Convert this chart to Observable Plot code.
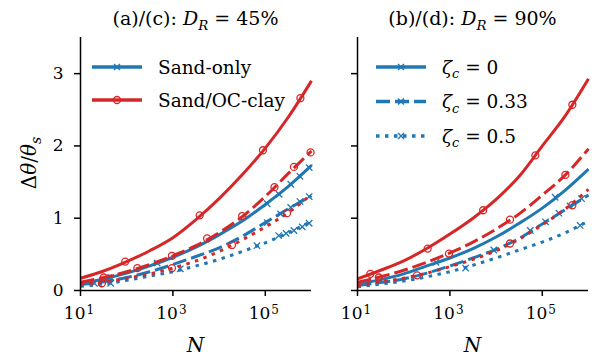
<!DOCTYPE html>
<html><head><meta charset="utf-8">
<script src="https://cdn.jsdelivr.net/npm/d3@7"></script>
<script src="https://cdn.jsdelivr.net/npm/@observablehq/plot@0.6"></script>
<style>
body{margin:0;background:#fff;}
#wrap{position:relative;width:595px;height:358px;overflow:hidden;background:#fff;}
#p1,#p2{position:absolute;top:0;}
#p1{left:0}
#p2{left:297px}
</style></head><body><div id="wrap"><div id="p1"></div><div id="p2"></div></div>
<script>
// ---- data ----
const N = [10, 31.6, 100, 316, 1000, 3160, 10000, 31600, 100000, 316000, 1000000];
const xTicks = [10, 1000, 100000];
const xTickExp = ["1", "3", "5"];
const yTicks = [0, 1, 2, 3];

// D_R = 45 %
const sand45_z0   = [0.10, 0.16, 0.24, 0.34, 0.46, 0.60, 0.77, 0.96, 1.19, 1.44, 1.73];
const sand45_z033 = [0.08, 0.12, 0.18, 0.26, 0.36, 0.47, 0.59, 0.75, 0.94, 1.13, 1.31];
const sand45_z05  = [0.06, 0.09, 0.14, 0.20, 0.26, 0.34, 0.43, 0.54, 0.66, 0.80, 0.96];
const clay45_z0   = [0.17, 0.27, 0.40, 0.55, 0.73, 0.98, 1.27, 1.60, 1.97, 2.40, 2.90];
const clay45_z033 = [0.115, 0.18, 0.26, 0.36, 0.48, 0.62, 0.80, 1.02, 1.30, 1.62, 1.93];
const clay45_z05  = [0.09, 0.12, 0.17, 0.23, 0.31, 0.41, 0.54, 0.70, 0.88, 1.08, 1.33];
// D_R = 90 %
const sand90_z0   = [0.09, 0.15, 0.23, 0.34, 0.45, 0.58, 0.74, 0.93, 1.14, 1.39, 1.68];
const sand90_z033 = [0.07, 0.11, 0.16, 0.24, 0.34, 0.45, 0.57, 0.72, 0.92, 1.12, 1.32];
const sand90_z05  = [0.05, 0.09, 0.13, 0.19, 0.26, 0.35, 0.45, 0.56, 0.67, 0.80, 0.96];
const clay90_z0   = [0.16, 0.28, 0.41, 0.58, 0.78, 1.00, 1.26, 1.58, 2.00, 2.42, 2.93];
const clay90_z033 = [0.115, 0.19, 0.28, 0.39, 0.52, 0.67, 0.85, 1.06, 1.32, 1.60, 1.96];
const clay90_z05  = [0.07, 0.12, 0.17, 0.24, 0.33, 0.43, 0.55, 0.71, 0.91, 1.13, 1.40];

// marker points (N, value)
const sand45_z0_mN   = [45, 457, 110000, 200000, 355000, 562000, 891000];
const sand45_z0_mv   = [0.18, 0.38, 1.20, 1.33, 1.47, 1.58, 1.70];
const sand45_z033_mN = [20, 110000, 214000, 355000, 562000, 891000];
const sand45_z033_mv = [0.10, 0.94, 1.06, 1.15, 1.23, 1.30];
const sand45_z05_mN  = [45, 1445, 66000, 195000, 282000, 417000, 631000, 891000];
const sand45_z05_mv  = [0.10, 0.30, 0.62, 0.76, 0.79, 0.83, 0.88, 0.93];
const clay45_z0_mN   = [93, 3800, 89000, 575000];
const clay45_z0_mv   = [0.40, 1.04, 1.94, 2.66];
const clay45_z033_mN = [32, 170, 955, 5500, 31600, 158000, 417000, 955000];
const clay45_z033_mv = [0.18, 0.31, 0.48, 0.72, 1.03, 1.43, 1.71, 1.91];
const clay45_z05_mN  = [29, 955, 19000, 295000];
const clay45_z05_mv  = [0.10, 0.31, 0.63, 1.07];

const sand90_z0_mN   = [500, 190000];
const sand90_z0_mv   = [0.39, 1.29];
const sand90_z033_mN = [8900, 55000, 117500, 229000, 398000, 708000];
const sand90_z033_mv = [0.56, 0.83, 0.95, 1.07, 1.17, 1.27];
const sand90_z05_mN  = [2190, 661000];
const sand90_z05_mv  = [0.31, 0.90];
const clay90_z0_mN   = [19, 330, 5250, 70800, 447000];
const clay90_z0_mv   = [0.23, 0.58, 1.11, 1.87, 2.57];
const clay90_z033_mN = [29, 955, 20000, 316000];
const clay90_z033_mv = [0.18, 0.51, 0.98, 1.60];
const clay90_z05_mN  = [195, 20000, 447000];
const clay90_z05_mv  = [0.21, 0.65, 1.18];

const BLUE = "#1f77b4", RED = "#d62728";
const DASH = {"0": null, "0.33": "14,5", "0.5": "3.5,5.5"};
const FONT = "DejaVu Serif";

const panels = [
  {id: "p1", pct: "45%", tag: "(a)/(c): ", width: 320, ml: 80, mr: 9, showY: true, series: [
    {mat: "sand", z: "0", v: sand45_z0, mN: sand45_z0_mN, mv: sand45_z0_mv},
    {mat: "sand", z: "0.33", v: sand45_z033, mN: sand45_z033_mN, mv: sand45_z033_mv},
    {mat: "sand", z: "0.5", v: sand45_z05, mN: sand45_z05_mN, mv: sand45_z05_mv},
    {mat: "clay", z: "0", v: clay45_z0, mN: clay45_z0_mN, mv: clay45_z0_mv},
    {mat: "clay", z: "0.33", v: clay45_z033, mN: clay45_z033_mN, mv: clay45_z033_mv},
    {mat: "clay", z: "0.5", v: clay45_z05, mN: clay45_z05_mN, mv: clay45_z05_mv}]},
  {id: "p2", pct: "90%", tag: "(b)/(d): ", width: 298, ml: 60, mr: 7, showY: false, series: [
    {mat: "sand", z: "0", v: sand90_z0, mN: sand90_z0_mN, mv: sand90_z0_mv},
    {mat: "sand", z: "0.33", v: sand90_z033, mN: sand90_z033_mN, mv: sand90_z033_mv},
    {mat: "sand", z: "0.5", v: sand90_z05, mN: sand90_z05_mN, mv: sand90_z05_mv},
    {mat: "clay", z: "0", v: clay90_z0, mN: clay90_z0_mN, mv: clay90_z0_mv},
    {mat: "clay", z: "0.33", v: clay90_z033, mN: clay90_z033_mN, mv: clay90_z033_mv},
    {mat: "clay", z: "0.5", v: clay90_z05, mN: clay90_z05_mN, mv: clay90_z05_mv}]}
];

function rich(g, x, y, parts, size, anchor, transform) {
  const t = g.append("text").attr("x", x).attr("y", y).attr("font-size", size)
    .attr("text-anchor", anchor).attr("font-family", FONT).attr("fill", "black");
  if (transform) t.attr("transform", transform);
  let shift = 0;
  for (const p of parts) {
    const ts = t.append("tspan").text(p.t);
    if (p.i) ts.attr("font-style", "italic");
    const target = p.sub ? size * 0.25 : 0;
    if (target !== shift) { ts.attr("dy", target - shift); shift = target; }
    if (p.sub) ts.attr("font-size", size * 0.7);
  }
  return t;
}

function legendEntry(g, x0, x1, y, color, dash, marker, parts, tx) {
  const line = g.append("line").attr("x1", x0).attr("x2", x1).attr("y1", y).attr("y2", y)
    .attr("stroke", color).attr("stroke-width", 3.5);
  if (dash) line.attr("stroke-dasharray", dash);
  const cx = (x0 + x1) / 2;
  if (marker === "x") {
    g.append("path").attr("d", `M${cx-3},${y-3}L${cx+3},${y+3}M${cx-3},${y+3}L${cx+3},${y-3}`)
      .attr("stroke", color).attr("stroke-width", 1.4);
  } else {
    g.append("circle").attr("cx", cx).attr("cy", y).attr("r", 3.5).attr("fill", "none")
      .attr("stroke", color).attr("stroke-width", 1.3);
  }
  rich(g, tx, y + 6.5, parts, 18.5, "start");
}

for (const p of panels) {
  const marks = [];
  for (const s of p.series) {
    const color = s.mat === "sand" ? BLUE : RED;
    const rows = N.map((n, i) => ({N: n, v: s.v[i]}));
    const opts = {x: "N", y: "v", stroke: color, strokeWidth: 3, curve: "monotone-x", strokeLinecap: "butt"};
    if (DASH[s.z]) opts.strokeDasharray = DASH[s.z];
    marks.push(Plot.line(rows, opts));
    const mrows = s.mN.map((n, i) => ({N: n, v: s.mv[i]}));
    marks.push(Plot.dot(mrows, {x: "N", y: "v", symbol: s.mat === "sand" ? "times" : "circle",
      r: s.mat === "sand" ? 3 : 3.5, stroke: color, fill: "none", strokeWidth: 1.3}));
  }
  marks.push(
    Plot.ruleX([10], {stroke: "black", strokeWidth: 1.5}),
    Plot.ruleY([0], {stroke: "black", strokeWidth: 1.5}),
    Plot.axisY({ticks: yTicks, tickSize: 6, tickPadding: 11, fontSize: 17, strokeWidth: 1.5, label: null,
      tickFormat: p.showY ? (d => String(d)) : (() => "")}),
    Plot.axisX({ticks: xTicks, tickSize: 6, strokeWidth: 1.5, label: null, tickFormat: () => ""}),
    Plot.text(xTicks, {x: d => d, text: () => "10", frameAnchor: "bottom", textAnchor: "end", dx: 5, dy: 28.6, fontSize: 17}),
    Plot.text(xTicks, {x: d => d, text: (d, i) => xTickExp[i], frameAnchor: "bottom", textAnchor: "start", dx: 6, dy: 23.2, fontSize: 12})
  );
  const chart = Plot.plot({
    width: p.width, height: 358,
    marginLeft: p.ml, marginRight: p.mr, marginTop: 37, marginBottom: 68,
    x: {type: "log", domain: [10, 1e6]},
    y: {domain: [0, 3.5]},
    style: {fontFamily: FONT, fontSize: "17px"},
    marks
  });
  document.getElementById(p.id).appendChild(chart);
  const svg = d3.select(chart).style("overflow", "visible");
  const cx = p.ml + (p.width - p.ml - p.mr) / 2;
  rich(svg, cx, 25, [{t: p.tag}, {t: "D", i: true}, {t: "R", i: true, sub: true}, {t: " = " + p.pct}], 19, "middle");
  rich(svg, cx, 352, [{t: "N", i: true}], 20, "middle");
  if (p.showY) {
    rich(svg, 0, 0, [{t: "Δ"}, {t: "θ", i: true}, {t: "/"}, {t: "θ", i: true}, {t: "s", i: true, sub: true}], 20, "middle",
      "translate(36,163) rotate(-90)");
    legendEntry(svg, 92, 142, 67, BLUE, null, "x", [{t: "Sand-only"}], 158);
    legendEntry(svg, 92, 142, 100, RED, null, "o", [{t: "Sand/OC-clay"}], 158);
  } else {
    const zl = [["0", null, 67], ["0.33", DASH["0.33"], 101.5], ["0.5", DASH["0.5"], 136]];
    for (const [z, dash, y] of zl) {
      legendEntry(svg, 79, 129, y, BLUE, dash, "x",
        [{t: "ζ", i: true}, {t: "c", i: true, sub: true}, {t: " = " + z}], 145);
    }
  }
}
</script></body></html>
